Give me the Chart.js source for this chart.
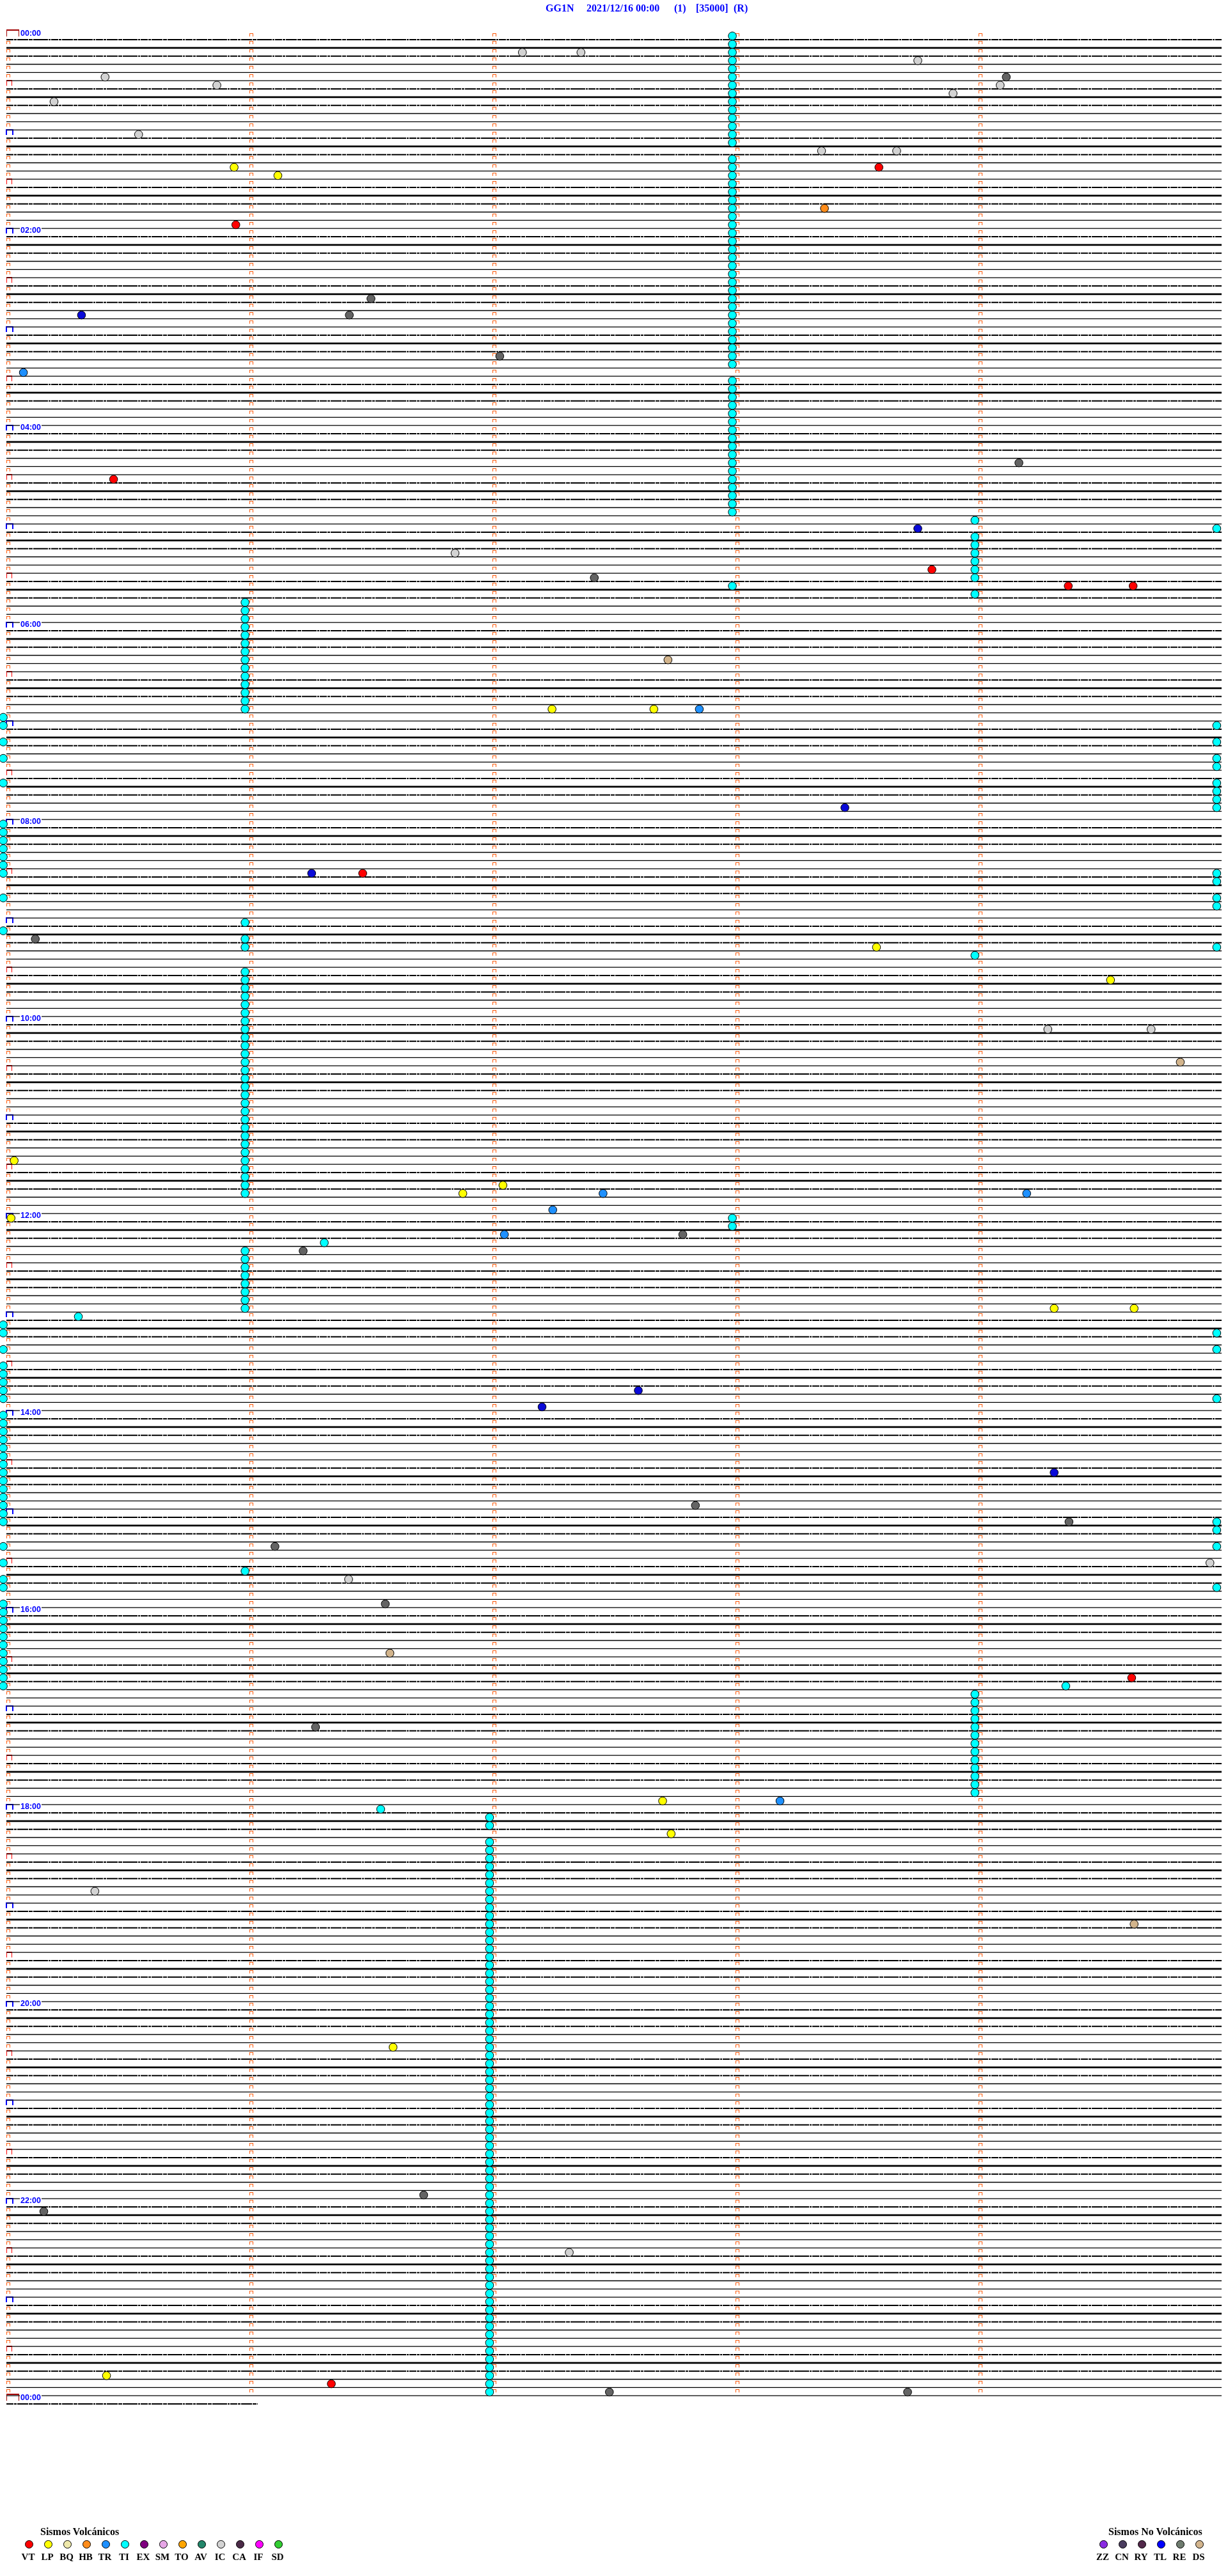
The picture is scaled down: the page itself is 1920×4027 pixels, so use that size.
<!DOCTYPE html>
<html>
<head>
<meta charset="utf-8">
<script src="https://cdn.jsdelivr.net/npm/chart.js@4.4.0/dist/chart.umd.min.js"></script>
<style>
  body { margin: 0; background: #fff; }
  #wrap { position: relative; width: 1920px; height: 4027px; overflow: hidden; }
  #heli { position: absolute; left: 0; top: 0; }
  .t { position: absolute; top: 5px; font: bold 16px "Liberation Serif", serif; color: #0000ff; white-space: pre; line-height: 16px; }
  .lt { position: absolute; font: bold 16px "Liberation Serif", serif; color: #000; white-space: pre; line-height: 16px; }
  .lg { position: absolute; width: 40px; text-align: center; font: bold 15px "Liberation Serif", serif; color: #000; line-height: 15px; }
  .dot { position: absolute; width: 13px; height: 13px; border: 1px solid #000; border-radius: 50%; box-sizing: border-box; }
</style>
</head>
<body>
<div id="wrap">
  <canvas id="heli" width="1920" height="4027"></canvas>
  <span class="t" style="left:853px">GG1N</span>
  <span class="t" style="left:917px">2021/12/16 00:00</span>
  <span class="t" style="left:1054px">(1)</span>
  <span class="t" style="left:1088px">[35000]</span>
  <span class="t" style="left:1147px">(R)</span>
  <div id="legend"></div>
</div>
<script>
// 288 five-minute traces, x in minutes within the trace
const LINE_COUNT = 288;
const hourLabels = ['00:00', '02:00', '04:00', '06:00', '08:00', '10:00', '12:00',
                    '14:00', '16:00', '18:00', '20:00', '22:00', '00:00'];
const hourLabelLines = [0, 24, 48, 72, 96, 120, 144, 168, 192, 216, 240, 264, 288];
// noise look repeats every half hour (6 traces)
const tracePattern = ['noisy', 'thick', 'noisy', 'thin', 'thin', 'thin'];

// events: [trace index, minute]
const VT = [[16, 3.59], [23, 0.944], [54, 0.441], [65, 3.808], [67, 4.369], [67, 4.636],
            [102, 1.466], [200, 4.63], [286, 1.337]];
const LP = [[16, 0.937], [17, 1.117], [82, 2.245], [82, 2.664], [111, 3.58], [115, 4.543],
            [137, 0.032], [140, 2.043], [141, 1.878], [144, 0.019], [155, 4.311], [155, 4.64],
            [215, 2.7], [219, 2.735], [245, 1.591], [285, 0.412]];
const HB = [[21, 3.366]];
const TR = [[41, 0.07], [82, 2.851], [141, 2.455], [141, 4.198], [143, 2.248], [146, 2.049],
            [215, 3.183]];
const IC = [[2, 2.123], [2, 2.364], [3, 3.75], [5, 0.406], [6, 0.866], [6, 4.089], [7, 3.895],
            [8, 0.196], [12, 0.544], [14, 3.354], [14, 3.663], [63, 1.846], [121, 4.285],
            [121, 4.71], [186, 4.952], [188, 1.408], [226, 0.364], [270, 2.316]];
const RE = [[5, 4.114], [32, 1.5], [34, 1.411], [39, 2.03], [52, 4.166], [66, 2.419],
            [110, 0.119], [146, 2.783], [148, 1.221], [179, 2.835], [181, 4.372], [184, 1.105],
            [191, 1.559], [206, 1.272], [263, 1.717], [265, 0.154], [287, 2.481], [287, 3.708]];
const TL = [[34, 0.309], [60, 3.75], [94, 3.45], [102, 1.256], [165, 2.6], [167, 2.204],
            [175, 4.311]];
const DS = [[76, 2.722], [125, 4.83], [197, 1.578], [230, 4.64]];

// TI markers come in columns, listed by trace index
const tiCol1 = [69, 70, 71, 72, 73, 74, 75, 76, 77, 78, 79, 80, 81, 82, 108, 110, 111,
                114, 115, 116, 117, 118, 119, 120, 121, 122, 123, 124, 125, 126, 127, 128,
                129, 130, 131, 132, 133, 134, 135, 136, 137, 138, 139, 140, 141,
                148, 149, 150, 151, 152, 153, 154, 155, 187];
const tiCol2 = [217, 218, 220, 221, 222, 223, 224, 225, 226, 227, 228, 229, 230, 231, 232,
                233, 234, 235, 236, 237, 238, 239, 240, 241, 242, 243, 244, 245, 246, 247,
                248, 249, 250, 251, 252, 253, 254, 255, 256, 257, 258, 259, 260, 261, 262,
                263, 264, 265, 266, 267, 268, 269, 270, 271, 272, 273, 274, 275, 276, 277,
                278, 279, 280, 281, 282, 283, 284, 285, 286, 287];
const tiCol3 = [0, 1, 2, 3, 4, 5, 6, 7, 8, 9, 10, 11, 12, 13, 15, 16, 17, 18, 19, 20, 21,
                22, 23, 24, 25, 26, 27, 28, 29, 30, 31, 32, 33, 34, 35, 36, 37, 38, 39, 40,
                42, 43, 44, 45, 46, 47, 48, 49, 50, 51, 52, 53, 54, 55, 56, 57, 58, 67,
                144, 145];
const tiCol4 = [59, 61, 62, 63, 64, 65, 66, 68, 112, 202, 203, 204, 205, 206, 207, 208,
                209, 210, 211, 212, 213, 214];
const tiLeft = [83, 84, 86, 88, 91, 96, 97, 98, 99, 100, 101, 102, 105, 109,
                157, 158, 160, 162, 163, 164, 165, 166, 168, 169, 170, 171, 172, 173, 174,
                175, 176, 177, 178, 179, 180, 181, 184, 186, 188, 189, 191, 192, 193, 194,
                195, 196, 197, 198, 199, 200, 201];
const tiRight = [60, 84, 86, 88, 89, 91, 92, 93, 94, 102, 103, 105, 106, 111,
                 158, 160, 166, 181, 182, 184, 189];
const tiOther = [[147, 1.308], [156, 0.296], [201, 4.359], [216, 1.54]];

const TI = [].concat(
  tiCol1.map(k => [k, 0.982]), tiCol2.map(k => [k, 1.988]),
  tiCol3.map(k => [k, 2.987]), tiCol4.map(k => [k, 3.985]),
  tiLeft.map(k => [k, -0.013]), tiRight.map(k => [k, 4.98]), tiOther);

const plotColors = { VT: '#ff0000', LP: '#ffff00', HB: '#ff8c1a', TR: '#1e90ff', TI: '#00ffff',
                     IC: '#d3d3d3', RE: '#646464', TL: '#0a0ad8', DS: '#d2b48c' };
const eventSets = { IC, RE, DS, TL, TR, HB, LP, VT, TI };

const volcTypes = ['VT', 'LP', 'BQ', 'HB', 'TR', 'TI', 'EX', 'SM', 'TO', 'AV', 'IC', 'CA', 'IF', 'SD'];
const volcColors = ['#ff0000', '#ffff00', '#eee8aa', '#ff8c1a', '#1e90ff', '#00ffff', '#800080',
                    '#e6a6e6', '#ffa500', '#23866a', '#d3d3d3', '#4b2a47', '#ff00ff', '#32cd32'];
const nonVolcTypes = ['ZZ', 'CN', 'RY', 'TL', 'RE', 'DS'];
const nonVolcColors = ['#8a2be2', '#4a3c5e', '#52284a', '#0000ff', '#6e7b6e', '#d2b48c'];

// trace lines, split by noise look
const traces = { noisy: [], thick: [], thin: [] };
for (let k = 0; k < LINE_COUNT; k++) {
  traces[tracePattern[k % 6]].push({ x: 0, y: k }, { x: 5, y: k }, { x: 5, y: null });
}
traces.noisy.push({ x: 0, y: LINE_COUNT }, { x: 1.034, y: LINE_COUNT });

function bracket(ctx, left, top, w, h, bar, leg, color) {
  ctx.fillStyle = color;
  ctx.fillRect(left, top, w, bar);
  ctx.fillRect(left, top, leg, h);
  ctx.fillRect(left + w - leg, top, leg, h);
}

const markPlugin = {
  id: 'minuteMarks',
  beforeDatasetsDraw(chart) {
    const { ctx, scales: { x, y } } = chart;
    ctx.save();
    for (let k = 0; k <= LINE_COUNT; k++) {
      const yl = y.getPixelForValue(k);
      const x0 = Math.round(x.getPixelForValue(0));
      if (k === 0 || k === LINE_COUNT) {
        bracket(ctx, x0, Math.round(yl - 16), 20, 11, 2, 1, '#a00000');
      } else if (k % 12 === 0) {
        bracket(ctx, x0 - 1, Math.round(yl - 14), 12, 9, 2, 2, '#0000ff');
      } else if (k % 12 === 6) {
        bracket(ctx, x0, Math.round(yl - 14), 9, 9, 2, 1, '#ff0000');
      }
      if (k === LINE_COUNT) continue;
      for (let m = (k % 6 === 0 ? 1 : 0); m < 5; m++) {
        bracket(ctx, Math.round(x.getPixelForValue(m)), Math.round(yl - 10.5), 6, 5, 1, 1, '#ff5a0a');
      }
    }
    ctx.restore();
  },
  afterDatasetDraw(chart, args) {
    if (args.index !== 0) return;
    const { ctx, scales: { x, y } } = chart;
    ctx.save();
    ctx.font = 'bold 12.5px "Liberation Sans", Arial, sans-serif';
    ctx.textBaseline = 'alphabetic';
    hourLabels.forEach((lab, i) => {
      const yl = y.getPixelForValue(hourLabelLines[i]);
      const tx = Math.round(x.getPixelForValue(0)) + 22;
      const w = ctx.measureText(lab).width;
      ctx.fillStyle = '#fff';
      ctx.fillRect(tx - 1, Math.round(yl - 16), w + 2, 12);
      ctx.fillStyle = '#0000ff';
      ctx.fillText(lab, tx, Math.round(yl - 6));
    });
    ctx.restore();
  }
};

const datasets = [
  { type: 'line', data: traces.noisy, borderColor: '#000', borderWidth: 2,
    borderDash: [11, 1, 4, 1, 17, 1, 6, 1, 23, 1, 3, 1], pointRadius: 0, spanGaps: false, order: 3 },
  { type: 'line', data: traces.thick, borderColor: '#000', borderWidth: 2.6,
    pointRadius: 0, spanGaps: false, order: 4 },
  { type: 'line', data: traces.thin, borderColor: '#000', borderWidth: 1.3,
    pointRadius: 0, spanGaps: false, order: 5 }
];
Object.keys(eventSets).forEach(name => {
  datasets.push({
    type: 'scatter',
    label: name,
    data: eventSets[name].map(([k, m]) => ({ x: m, y: k - 0.45 })),
    pointRadius: 6.3,
    pointBorderWidth: 1,
    pointBorderColor: '#000',
    pointBackgroundColor: plotColors[name],
    clip: false,
    order: 1
  });
});

new Chart(document.getElementById('heli').getContext('2d'), {
  data: { datasets: datasets },
  options: {
    responsive: false,
    animation: false,
    events: [],
    layout: { padding: { left: 10, right: 10, top: 49.17, bottom: 256.17 } },
    scales: {
      x: { type: 'linear', min: 0, max: 5, display: false },
      y: { type: 'linear', min: -1, max: 289, reverse: true, display: false }
    },
    plugins: { legend: { display: false }, tooltip: { enabled: false } }
  },
  plugins: [markPlugin]
});

// legend blocks
function legendBlock(title, titleLeft, types, colors, firstX) {
  const box = document.getElementById('legend');
  let html = `<span class="lt" style="left:${titleLeft}px;top:3950px">${title}</span>`;
  types.forEach((t, i) => {
    const cx = firstX + i * 30;
    html += `<div class="dot" style="left:${cx - 6}px;top:3971px;background:${colors[i]}"></div>`;
    html += `<div class="lg" style="left:${cx - 21}px;top:3990px">${t}</div>`;
  });
  box.insertAdjacentHTML('beforeend', html);
}
legendBlock('Sismos Volcánicos', 63, volcTypes, volcColors, 45);
legendBlock('Sismos No Volcánicos', 1733, nonVolcTypes, nonVolcColors, 1725);
</script>
</body>
</html>
